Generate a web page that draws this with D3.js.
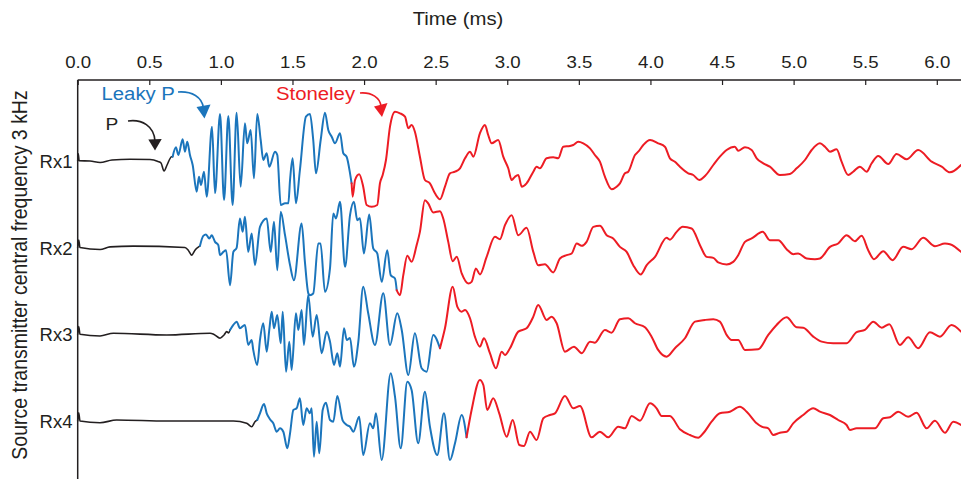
<!DOCTYPE html>
<html>
<head>
<meta charset="utf-8">
<script src="https://cdn.jsdelivr.net/npm/d3@7"></script>
<style>
  html, body { margin: 0; padding: 0; background: #fff; }
  svg { display: block; }
  text { font-family: "Liberation Sans", Arial, Helvetica, sans-serif; fill: #231f20; }
</style>
</head>
<body>
<svg id="chart" width="961" height="479"></svg>
<script>
// Receiver names and time-axis ticks (ms)
const receivers = ["Rx1", "Rx2", "Rx3", "Rx4"];
const timeTicks = [0, 0.5, 1, 1.5, 2, 2.5, 3, 3.5, 4, 4.5, 5, 5.5, 6];

// Arrival onsets (ms) of the leaky-P and Stoneley wave trains on each receiver
const leakyOnset = [0.663, 0.854, 1.064, 1.254];
const stoneleyOnset = [1.913, 2.228, 2.530, 2.716];

// Waveforms: [time (ms), amplitude (arb. units, positive up)]
const rx1 = [
  [0,0],[0.004,7],[0.01,0],[0.086,-0.3],[0.156,-1.8],[0.24,0.7],[0.365,1.4],[0.505,1.2],[0.561,-0.8],[0.582,-2.3],
  [0.603,-10.3],[0.624,-4.3],[0.656,4],[0.663,4],[0.686,13.4],[0.703,5.7],[0.733,21.4],[0.749,9],[0.765,19],[0.784,5.7],
  [0.803,-4.3],[0.831,-31],[0.847,-16],[0.861,-24.3],[0.882,-11],[0.901,-36],[0.938,34],[0.959,-32.6],[0.994,46.7],[1.022,-39.3],
  [1.052,44.7],[1.082,-44.3],[1.110,48],[1.138,-26],[1.168,37.4],[1.184,17.4],[1.208,30.7],[1.231,-17.6],[1.254,46.7],[1.278,20.7],
  [1.296,0.7],[1.320,7.4],[1.338,-6],[1.378,9],[1.394,5.7],[1.418,-44.3],[1.448,-42.6],[1.471,-42.6],[1.483,-19.3],[1.501,2.4],
  [1.524,-42.6],[1.552,-9.3],[1.594,44],[1.622,46.7],[1.645,20.7],[1.664,-12.6],[1.697,20.7],[1.727,48],[1.750,30.7],[1.774,24],
  [1.797,17.4],[1.832,27.4],[1.855,7.4],[1.878,4],[1.902,-12.6],[1.913,-22.6],[1.920,-36],[1.937,-19.3],[1.966,-13.6],[1.994,-26],
  [2.018,-44.3],[2.053,-46],[2.092,-44.3],[2.111,-22.6],[2.130,-14.3],[2.153,0.7],[2.181,34],[2.216,49],[2.251,47.4],[2.286,44],
  [2.309,32.4],[2.332,35.7],[2.355,29],[2.390,4],[2.425,-19.3],[2.460,-22.6],[2.495,-32.6],[2.530,-38.6],[2.565,-26],[2.600,-12.6],
  [2.635,-11],[2.670,-7.6],[2.705,2.4],[2.740,9],[2.763,4],[2.809,27.4],[2.844,35.7],[2.867,25.7],[2.891,17.4],[2.937,20.7],
  [2.972,4],[3.007,-7.6],[3.031,-19.3],[3.054,-16],[3.077,-14.3],[3.101,-26],[3.135,-22.6],[3.182,-11],[3.205,-6],[3.228,-7.6],
  [3.275,2.4],[3.321,3.4],[3.356,2.4],[3.391,14],[3.438,14.7],[3.461,15.7],[3.496,19],[3.531,17.4],[3.578,12.4],[3.612,5.7],
  [3.647,-1],[3.682,-16],[3.729,-28.6],[3.764,-26],[3.787,-22.6],[3.822,-12.6],[3.845,-11],[3.892,5.7],[3.915,9],[3.950,15.7],
  [3.997,20.7],[4.054,17.4],[4.101,14],[4.136,2.4],[4.171,-1],[4.206,-6],[4.264,-12.6],[4.299,-14.3],[4.341,-19.3],[4.381,-15.3],
  [4.439,-4.3],[4.485,4],[4.532,10.7],[4.590,14],[4.613,10],[4.660,13.4],[4.707,10.7],[4.742,2.4],[4.788,-2.6],[4.834,-6],
  [4.904,-14.3],[4.974,-13.3],[5.021,-7.6],[5.079,0.7],[5.126,10.7],[5.184,17.4],[5.219,14],[5.254,9],[5.300,11.4],[5.335,-1],
  [5.381,-14.3],[5.416,-11],[5.463,-6],[5.510,-11],[5.545,-2.6],[5.591,4.7],[5.661,-3.3],[5.719,6.7],[5.789,1.4],[5.870,10.7],
  [5.964,-1],[6.034,-6],[6.092,-11.6],[6.169,-4.3]
];
const rx2 = [
  [0,0],[0.007,7.3],[0.016,0],[0.156,-2],[0.226,0.6],[0.388,1.3],[0.749,0],[0.772,-2.7],[0.796,-7.7],[0.819,-2.7],
  [0.854,1.6],[0.877,11.6],[0.896,13],[0.919,9],[0.936,12.3],[0.959,5.6],[0.982,2.3],[0.994,-7.7],[1.017,-4.4],[1.036,-2.7],
  [1.064,-37.7],[1.087,-4.4],[1.110,-0.4],[1.133,29],[1.152,15.6],[1.168,30.6],[1.191,-4.4],[1.215,14],[1.238,-17.7],[1.273,20.6],
  [1.320,29],[1.348,-4.4],[1.371,25.6],[1.394,-22.7],[1.418,35.6],[1.448,12.3],[1.483,-17.7],[1.510,-32.7],[1.564,24],[1.587,-14.7],
  [1.611,-46],[1.622,-47.7],[1.645,-46],[1.680,4],[1.696,4],[1.727,-44.4],[1.762,-21],[1.785,34],[1.804,29],[1.832,45.6],
  [1.867,-19.4],[1.902,32.3],[1.929,45.6],[1.953,27.3],[1.971,29.3],[1.999,-6],[2.036,33],[2.064,-1],[2.092,-6],[2.123,-34.4],
  [2.162,-2.7],[2.186,-27.7],[2.216,-31],[2.228,-42.7],[2.251,-47.7],[2.274,-27.7],[2.302,-8.4],[2.332,-14.4],[2.367,2.3],[2.390,15.6],
  [2.425,47.3],[2.448,44],[2.483,35],[2.530,36.3],[2.553,29],[2.588,5.6],[2.619,-13.7],[2.647,-9.4],[2.682,-26],[2.728,-36],
  [2.751,-34.4],[2.781,-21],[2.809,-27],[2.856,-9.4],[2.914,10.6],[2.949,8.3],[2.984,22.3],[3.031,32.3],[3.077,12.3],[3.135,19.6],
  [3.182,-4.4],[3.216,-17.7],[3.263,-16.7],[3.321,-25],[3.368,-11],[3.415,-7.7],[3.450,-6],[3.485,4],[3.520,1.6],[3.554,5.6],
  [3.601,20.6],[3.647,21.6],[3.694,12.3],[3.740,9],[3.787,0.6],[3.834,-4.4],[3.880,-17.7],[3.932,-27],[3.974,-17.7],[4.032,-9.4],
  [4.113,9.6],[4.136,7.8],[4.183,15.6],[4.225,20.6],[4.288,19],[4.346,2.3],[4.392,-9.4],[4.439,-10.4],[4.473,-15],[4.532,-17],
  [4.578,-14.4],[4.613,-7.7],[4.660,5.6],[4.707,9],[4.784,15.6],[4.834,7.3],[4.893,7.3],[4.951,-1.7],[4.997,-6.7],[5.032,-6],
  [5.091,-11],[5.149,-11.7],[5.184,-11],[5.254,0.6],[5.311,4],[5.370,12.3],[5.428,6.3],[5.475,11.6],[5.521,-2.7],[5.561,-11.7],
  [5.626,-3.7],[5.691,-12.7],[5.765,0.6],[5.824,-1.7],[5.905,9.6],[5.987,1.3],[6.057,4],[6.092,3.3],[6.169,-4.4]
];
const rx3 = [
  [0,0],[0.007,7.6],[0.016,0],[0.156,-1.7],[0.249,1],[0.622,-0.7],[0.924,1],[0.952,-0.2],[0.994,-4],[1.022,-0.7],
  [1.041,2.6],[1.053,1.3],[1.064,4.3],[1.087,9.3],[1.110,12.6],[1.133,6],[1.168,9.3],[1.191,-10.7],[1.215,-5.7],[1.226,-15.7],
  [1.254,-30.7],[1.273,-5.7],[1.296,11],[1.320,-17.4],[1.338,4.3],[1.355,22.6],[1.371,6],[1.394,19.3],[1.418,-9],[1.432,22.6],
  [1.455,-37.4],[1.478,-7.4],[1.494,-35.7],[1.524,21],[1.541,4.3],[1.564,24.3],[1.580,-10.7],[1.610,39.3],[1.641,-2.4],[1.669,19.3],
  [1.704,-19],[1.739,2.6],[1.762,-7.4],[1.790,-30.7],[1.813,-19],[1.832,-32.4],[1.860,6],[1.879,-5.7],[1.902,-3.7],[1.929,-32.4],
  [1.960,-7.4],[1.994,47.6],[2.029,21],[2.076,-10.7],[2.134,41],[2.181,-10.7],[2.232,21],[2.263,4.3],[2.309,-40.7],[2.355,1],
  [2.402,-34],[2.437,-37.4],[2.483,-0.7],[2.530,-14],[2.565,6],[2.619,47.6],[2.651,27.6],[2.682,22.6],[2.705,24.3],[2.740,16],
  [2.774,-2.4],[2.809,-12.4],[2.837,-4],[2.879,-19],[2.921,-34],[2.961,-17.4],[2.984,-20.7],[3.019,-14],[3.077,2.6],[3.135,6],
  [3.182,17.6],[3.216,29.3],[3.275,14.3],[3.310,17.6],[3.345,11],[3.403,-17.4],[3.466,-12.4],[3.520,-19],[3.578,-7.4],[3.612,-8.4],
  [3.682,4.3],[3.729,1.6],[3.787,15],[3.845,16],[3.892,11],[3.962,7],[4.008,-2.4],[4.054,-15.7],[4.113,-22.4],[4.171,-14],
  [4.241,-4],[4.311,12.6],[4.381,14.3],[4.439,15],[4.485,12.6],[4.532,-0.7],[4.567,-5.7],[4.613,-5.7],[4.660,-15.7],[4.753,-15],
  [4.823,-0.7],[4.881,9.3],[4.951,17],[5.021,7],[5.067,6.6],[5.137,-2.4],[5.196,-7.4],[5.277,-9],[5.370,-9],[5.440,2],
  [5.498,4.3],[5.556,12.6],[5.615,6.6],[5.668,10],[5.742,-10.7],[5.800,-3],[5.870,-14],[5.952,2],[6.022,-2.4],[6.103,9.3],
  [6.169,2.6]
];
const rx4 = [
  [0,0],[0.007,8.3],[0.016,0],[0.156,-1.7],[0.272,1],[0.622,0],[1.087,0],[1.180,-2.3],[1.215,-5.7],[1.238,-0.7],
  [1.254,1],[1.273,7.7],[1.301,17],[1.320,7.7],[1.343,1.7],[1.366,-2.3],[1.390,-10.7],[1.413,-7.3],[1.436,-10.7],[1.464,-27.3],
  [1.483,-12.3],[1.506,11],[1.529,12.7],[1.552,22.7],[1.575,-4],[1.599,12.7],[1.622,7.7],[1.634,12.7],[1.650,-35.7],[1.669,-0.7],
  [1.687,-32.3],[1.711,11],[1.734,18.3],[1.762,1],[1.785,-0.7],[1.813,25],[1.851,0.3],[1.879,-4],[1.902,-5.7],[1.925,-10.7],
  [1.966,4.3],[1.994,-34],[2.041,-2.3],[2.064,-7.3],[2.083,7.7],[2.123,-39],[2.186,47.7],[2.216,24.3],[2.256,-27.3],[2.302,39.3],
  [2.332,31],[2.378,-22.3],[2.425,29.3],[2.460,-5.7],[2.511,-34],[2.558,7.7],[2.600,-39],[2.635,-22.3],[2.682,6],[2.716,-16.3],
  [2.751,11],[2.809,41],[2.833,36],[2.860,11],[2.902,22.7],[2.944,7.7],[2.996,-15.7],[3.038,1],[3.084,-24],[3.117,-25],
  [3.159,-10.7],[3.205,-19],[3.252,2.7],[3.298,6],[3.333,7.7],[3.403,25],[3.461,12.7],[3.508,15],[3.589,-16.3],[3.647,-10.7],
  [3.705,-16.3],[3.775,-5.7],[3.822,-7.3],[3.869,5],[3.927,0.3],[3.997,17.7],[4.043,12.7],[4.078,5],[4.136,5],[4.206,-8.3],
  [4.276,-14],[4.334,-16.7],[4.369,-12.3],[4.427,-0.7],[4.485,7.7],[4.555,9.3],[4.625,14.3],[4.672,9.3],[4.742,-2.3],[4.777,-5.7],
  [4.823,-7.3],[4.858,-14],[4.904,-11.7],[4.951,-10.7],[4.997,-2.3],[5.067,6],[5.137,12.7],[5.184,9.3],[5.254,6],[5.311,1],
  [5.370,-4],[5.393,-9],[5.440,-7.3],[5.568,-7.3],[5.626,2.7],[5.673,3.7],[5.730,9.3],[5.800,4.3],[5.859,8.3],[5.929,-7.3],
  [5.987,0.3],[6.057,-11.7],[6.115,-0.7],[6.169,-4]
];
const waveforms = [rx1, rx2, rx3, rx4];

const colors = { p: "#231f20", leaky: "#1b75bc", stoneley: "#ed1c24" };
const axisColor = "#231f20";

const W = 961, H = 479;
const plotLeft = 77.7, plotTop = 80;
const stretch = 1.13; // glyphs are set slightly wide

const svg = d3.select("#chart");

// Scales
const x = d3.scaleLinear().domain([0, 6.169]).range([plotLeft, W]);
const row = d3.scalePoint().domain(receivers).range([160.7, 421]);
const amp = d3.scaleLinear().domain([-50, 50]).range([50, -50]);

// Places a horizontally widened text at (px, py)
function wideText(g, px, py, str, size, anchor, color) {
  return g.append("text")
    .attr("transform", `translate(${px},${py}) scale(${stretch},1)`)
    .attr("text-anchor", anchor || "start")
    .style("font-size", size + "px")
    .style("fill", color || axisColor)
    .text(str);
}

// Top time axis
const axisTop = d3.axisTop(x)
  .tickValues(timeTicks)
  .tickFormat(d3.format(".1f"))
  .tickSizeInner(-5)
  .tickSizeOuter(0)
  .tickPadding(12);

const gx = svg.append("g")
  .attr("transform", `translate(0,${plotTop})`)
  .call(axisTop);
gx.select(".domain").attr("stroke", axisColor).attr("stroke-width", 1.5).attr("d", `M${plotLeft},0H${W}`);
gx.selectAll(".tick line").attr("stroke", axisColor).attr("stroke-width", 1.2);
gx.selectAll(".tick text")
  .attr("fill", axisColor)
  .attr("transform", `scale(${stretch},1)`)
  .style("font-size", "16.5px")
  .style("font-family", "'Liberation Sans', Arial, sans-serif");

// Left vertical axis line
svg.append("line")
  .attr("x1", plotLeft).attr("x2", plotLeft)
  .attr("y1", plotTop).attr("y2", H)
  .attr("stroke", axisColor).attr("stroke-width", 1.5);

// Axis titles
wideText(svg, 458, 25, "Time (ms)", 18, "middle");

svg.append("text")
  .attr("transform", `translate(27,275) rotate(-90) scale(1,${stretch})`)
  .attr("text-anchor", "middle")
  .style("font-size", "19.5px")
  .text("Source transmitter central frequency 3 kHz");

// Receiver labels
receivers.forEach(r => {
  svg.append("text")
    .attr("x", 72.5)
    .attr("y", row(r) + 2.2)
    .attr("text-anchor", "end")
    .attr("dominant-baseline", "middle")
    .style("font-size", "18.5px")
    .text(r);
});

// Waveform traces, split into P, leaky-P and Stoneley segments
const line = d3.line()
  .x(d => x(d[0]))
  .y(d => d[1])
  .curve(d3.curveMonotoneX);

const traces = svg.append("g").attr("fill", "none")
  .attr("stroke-linejoin", "round").attr("stroke-linecap", "round");

waveforms.forEach((wf, i) => {
  const base = row(receivers[i]);
  const pts = wf.map(d => [d[0], base + amp(d[1])]);
  const t1 = leakyOnset[i], t2 = stoneleyOnset[i];
  const segs = [
    { pts: pts.filter(d => d[0] <= t1), color: colors.p, width: 1.6 },
    { pts: pts.filter(d => d[0] >= t1 && d[0] <= t2), color: colors.leaky, width: 2 },
    { pts: pts.filter(d => d[0] >= t2), color: colors.stoneley, width: 2 }
  ];
  segs.forEach(s => {
    traces.append("path")
      .attr("d", line(s.pts))
      .attr("stroke", s.color)
      .attr("stroke-width", s.width);
  });
});

// Phase annotations with curved arrows
function arrow(g, pathD, head, color) {
  g.append("path").attr("d", pathD).attr("fill", "none")
    .attr("stroke", color).attr("stroke-width", 1.6);
  g.append("path").attr("d", head).attr("fill", color).attr("stroke", "none");
}
const ann = svg.append("g");

wideText(ann, 105.5, 129.5, "P", 17, "start", colors.p);
arrow(ann, "M128,121 C142,119 154,126 155,141", "M148.3,139.5 L161.7,139 L155,150.5 Z", colors.p);

wideText(ann, 101.5, 99.5, "Leaky P", 18, "start", colors.leaky);
arrow(ann, "M178,92 C192,91 202,97 203.5,108", "M196.5,107 L210.5,104.5 L204.5,118.5 Z", colors.leaky);

wideText(ann, 276, 100, "Stoneley", 18, "start", colors.stoneley);
arrow(ann, "M360,93 C372,92 380,98 381,106", "M374,106.5 L387.5,103 L382,117 Z", colors.stoneley);
</script>
</body>
</html>
